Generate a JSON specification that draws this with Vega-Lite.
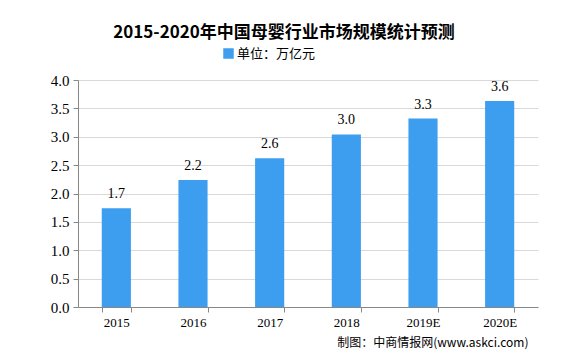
{
  "$schema": "https://vega.github.io/schema/vega-lite/v6.json",
  "autosize": "none",
  "width": 460,
  "height": 227,
  "padding": {"left": 78, "top": 80, "right": 31, "bottom": 47},
  "background": "white",
  "title": {
    "text": "2015-2020年中国母婴行业市场规模统计预测",
    "font": "Noto Sans CJK SC",
    "fontSize": 17,
    "fontWeight": "bold",
    "color": "#000000",
    "anchor": "middle",
    "dx": -24,
    "offset": 5
  },
  "data": {
    "values": [
      {"year": "2015", "value": 1.74},
      {"year": "2016", "value": 2.24},
      {"year": "2017", "value": 2.62},
      {"year": "2018", "value": 3.04},
      {"year": "2019E", "value": 3.32},
      {"year": "2020E", "value": 3.63}
    ]
  },
  "config": {
    "view": {"stroke": null},
    "axis": {"labelFont": "Liberation Serif", "titleFont": "Noto Sans CJK SC"}
  },
  "encoding": {
    "x": {
      "field": "year",
      "type": "nominal",
      "sort": null,
      "scale": {"paddingInner": 0.62, "paddingOuter": 0.31},
      "axis": {
        "labelAngle": 0,
        "labelFontSize": 13,
        "labelColor": "#000000",
        "labelPadding": 4,
        "domainColor": "#888888",
        "tickColor": "#888888",
        "tickBand": "extent",
        "tickSize": 5,
        "title": "制图：中商情报网(www.askci.com)",
        "titleFont": "Noto Sans CJK SC",
        "titleFontSize": 12,
        "titleFontWeight": "normal",
        "titleColor": "#000000",
        "titleAnchor": "end",
        "titleAlign": "right",
        "titleX": 450,
        "titleY": 30
      }
    },
    "y": {
      "field": "value",
      "type": "quantitative",
      "scale": {"domain": [0, 4]},
      "axis": {
        "values": [0, 0.5, 1, 1.5, 2, 2.5, 3, 3.5, 4],
        "format": ".1f",
        "title": null,
        "labelFontSize": 15,
        "labelColor": "#000000",
        "labelPadding": 4,
        "domainColor": "#888888",
        "tickColor": "#888888",
        "tickSize": 5,
        "gridColor": "#d9d9d9",
        "gridWidth": 1
      }
    }
  },
  "layer": [
    {
      "mark": {"type": "bar", "color": "#3d9ef0"},
      "encoding": {
        "color": {
          "datum": "单位：万亿元",
          "type": "nominal",
          "scale": {"range": ["#3d9ef0"]},
          "legend": {
            "title": null,
            "orient": "none",
            "legendX": 144,
            "legendY": -33,
            "symbolType": "square",
            "symbolSize": 110,
            "labelFont": "Noto Sans CJK SC",
            "labelFontSize": 13,
            "labelColor": "#000000",
            "labelOffset": 2
          }
        }
      }
    },
    {
      "mark": {"type": "text", "dy": -14, "font": "Liberation Serif", "fontSize": 14, "color": "#000000"},
      "encoding": {
        "text": {"field": "value", "type": "quantitative", "format": ".1f"}
      }
    }
  ]
}
